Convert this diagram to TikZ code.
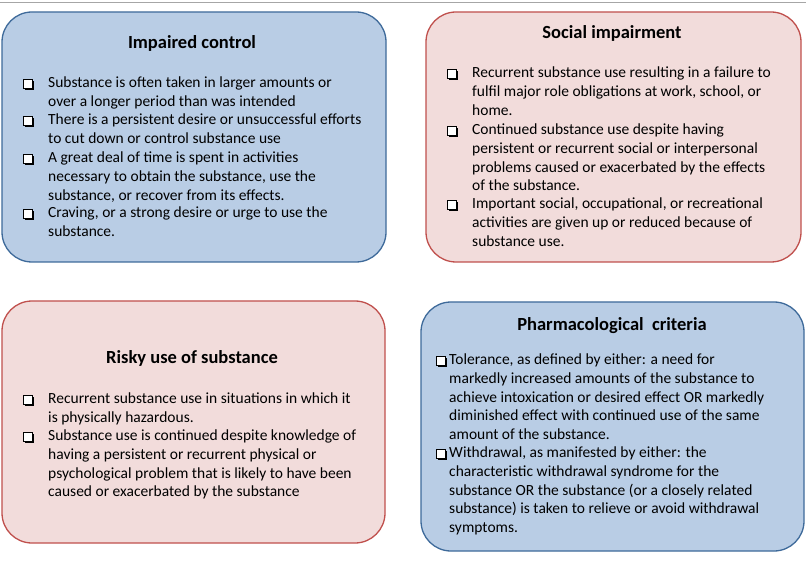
\documentclass[tikz,border=0pt]{standalone}
\usepackage{fontspec}
\setmainfont{Carlito}
\newcommand{\bx}{\tikz[baseline=0pt]{\fill (1.5pt,-1.5pt) rectangle (10pt,7pt);\filldraw[fill=white,draw=black,line width=0.8pt] (0,0) rectangle (8.5pt,8.5pt);}}
\tikzset{
  bluebox/.style={line width=1.3pt, rounded corners=30pt},
  pinkbox/.style={line width=1.3pt, rounded corners=30pt},
  ttl/.style={font=\fontsize{18.5}{20}\selectfont\bfseries, inner sep=0},
  txt/.style={font=\fontsize{15.5}{18.6}\selectfont, align=left, anchor=north west, inner sep=0},
  bul/.style={anchor=north west, inner sep=0}
}
\begin{document}
\begin{tikzpicture}[x=1pt,y=-1pt]
\useasboundingbox (0,0) rectangle (806,569);
\fill[white] (0,0) rectangle (806,569);
\draw[gray!70, line width=1pt] (0,2.5) -- (806,2.5);
\definecolor{bfill}{HTML}{B9CDE5}\definecolor{bdraw}{HTML}{3E6A9A}
\definecolor{pfill}{HTML}{F2DCDB}\definecolor{pdraw}{HTML}{C0504D}
\draw[bluebox,fill=bfill,draw=bdraw] (2,12) rectangle (386,262);
\draw[pinkbox,fill=pfill,draw=pdraw] (426,12) rectangle (801,262);
\draw[pinkbox,fill=pfill,draw=pdraw] (2,301) rectangle (385,543);
\draw[bluebox,fill=bfill,draw=bdraw] (421,302) rectangle (804,551);
% box 1
\node[ttl] (t1) at (192,43) {Impaired control};
\node[bul] (b11) at (23,79) {\bx};
\node[txt] (x11) at (48,77) { Substance is often taken in larger amounts or\\over a longer period than was intended};
\node[bul] (b12) at (23,116) {\bx};
\node[txt] (x12) at (48,114) {There is a persistent desire or unsuccessful efforts\\to cut down or control substance use};
\node[bul] (b13) at (23,154) {\bx};
\node[txt] (x13) at (48,152) {A great deal of time is spent in activities\\necessary to obtain the substance, use the\\substance, or recover from its effects.};
\node[bul] (b14) at (23,209) {\bx};
\node[txt] (x14) at (48,207) {Craving, or a strong desire or urge to use the\\substance.};
% box 2
\node[ttl] (t2) at (612,33) {Social impairment};
\node[bul] (b21) at (447,69) {\bx};
\node[txt] (x21) at (472,67) {Recurrent substance use resulting in a failure to\\fulfil major role obligations at work, school, or\\home.};
\node[bul] (b22) at (447,126) {\bx};
\node[txt] (x22) at (472,124) {Continued substance use despite having\\persistent or recurrent social or interpersonal\\problems caused or exacerbated by the effects\\of the substance.};
\node[bul] (b23) at (447,200) {\bx};
\node[txt] (x23) at (472,198) {Important social, occupational, or recreational\\activities are given up or reduced because of\\substance use.};
% box 3
\node[ttl] (t3) at (192,358) {Risky use of substance};
\node[bul] (b31) at (23,395) {\bx};
\node[txt] (x31) at (48,393) {Recurrent substance use in situations in which it\\is physically hazardous.};
\node[bul] (b32) at (23,432) {\bx};
\node[txt] (x32) at (48,430) {Substance use is continued despite knowledge of\\having a persistent or recurrent physical or\\psychological problem that is likely to have been\\caused or exacerbated by the substance};
% box 4
\node[ttl] (t4) at (612,326) {Pharmacological\ \ criteria};
\node[bul] (b41) at (436,356) {\bx};
\node[txt] (x41) at (449,354) {Tolerance, as defined by either: a need for\\markedly increased amounts of the substance to\\achieve intoxication or desired effect OR markedly\\diminished effect with continued use of the same\\amount of the substance.};
\node[bul] (b42) at (436,449) {\bx};
\node[txt] (x42) at (449,447) {Withdrawal, as manifested by either: the\\characteristic withdrawal syndrome for the\\substance OR the substance (or a closely related\\substance) is taken to relieve or avoid withdrawal\\symptoms.};
\end{tikzpicture}
\end{document}
